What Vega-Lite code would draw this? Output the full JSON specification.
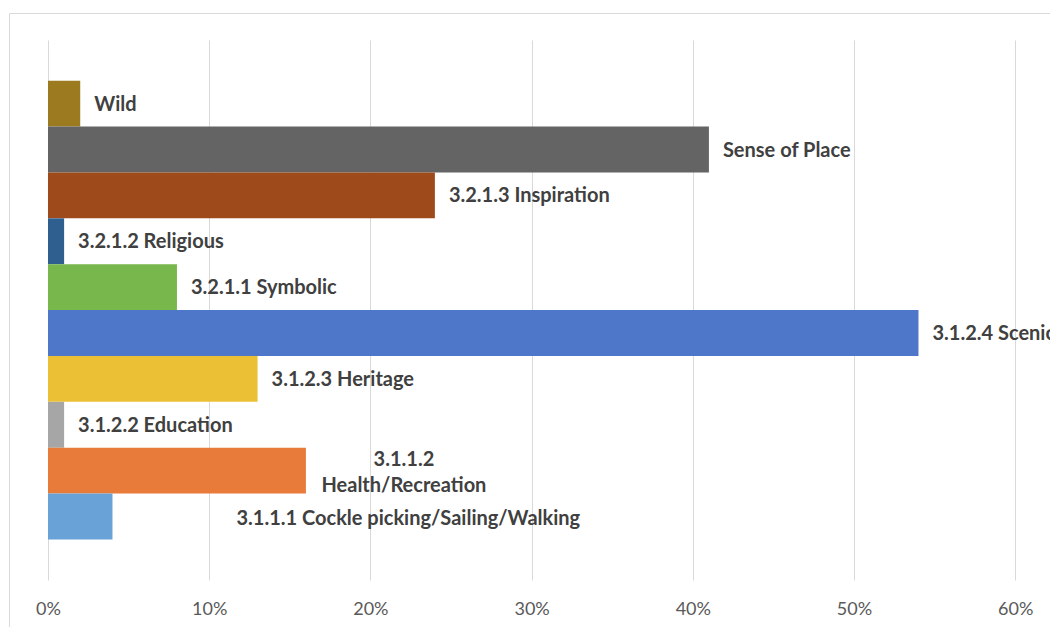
{
  "$schema": "https://vega.github.io/schema/vega-lite/v6.json",
  "width": 1041,
  "height": 614,
  "autosize": {"type": "none"},
  "padding": {"left": 9, "top": 13, "right": 0, "bottom": 0},
  "background": "white",
  "config": {"view": {"stroke": null}, "font": "Lato"},
  "data": {
    "values": [
      {"name": "Wild", "label": "Wild", "value": 0.02},
      {"name": "Sense of Place", "label": "Sense of Place", "value": 0.41},
      {"name": "3.2.1.3 Inspiration", "label": "3.2.1.3 Inspiration", "value": 0.24},
      {"name": "3.2.1.2 Religious", "label": "3.2.1.2 Religious", "value": 0.01},
      {"name": "3.2.1.1 Symbolic", "label": "3.2.1.1 Symbolic", "value": 0.08},
      {"name": "3.1.2.4 Scenic", "label": "3.1.2.4 Scenic", "value": 0.54},
      {"name": "3.1.2.3 Heritage", "label": "3.1.2.3 Heritage", "value": 0.13},
      {"name": "3.1.2.2 Education", "label": "3.1.2.2 Education", "value": 0.01},
      {"name": "3.1.1.2 Health/Recreation", "label": "3.1.1.2\nHealth/Recreation", "value": 0.16},
      {"name": "3.1.1.1 Cockle picking/Sailing/Walking", "label": "3.1.1.1 Cockle picking/Sailing/Walking", "value": 0.04}
    ]
  },
  "layer": [
    {
      "mark": {"type": "bar"},
      "encoding": {
        "y": {
          "field": "name", "type": "nominal", "sort": null,
          "scale": {"range": [67.7, 526.5], "paddingInner": 0, "paddingOuter": 0},
          "axis": null
        },
        "x": {
          "field": "value", "type": "quantitative",
          "scale": {"domain": [-0.02419, 0.62159], "nice": false, "zero": false},
          "axis": {
            "orient": "bottom", "values": [0, 0.1, 0.2, 0.3, 0.4, 0.5, 0.6], "format": ".0%",
            "grid": false, "domain": false, "ticks": true, "tickSize": -540, "tickColor": "#d9d9d9", "tickWidth": 1,
            "offset": -47, "labelPadding": 560, "title": null,
            "labelColor": "#595959", "labelFontSize": 18, "labelFont": "Lato"
          }
        },
        "x2": {"datum": 0},
        "color": {
          "field": "name", "type": "nominal", "legend": null,
          "scale": {
            "domain": ["Wild", "Sense of Place", "3.2.1.3 Inspiration", "3.2.1.2 Religious", "3.2.1.1 Symbolic", "3.1.2.4 Scenic", "3.1.2.3 Heritage", "3.1.2.2 Education", "3.1.1.2 Health/Recreation", "3.1.1.1 Cockle picking/Sailing/Walking"],
            "range": ["#9b7a20", "#646464", "#9e4a1a", "#2f5f8f", "#77b74b", "#4f77c9", "#ecc035", "#a6a6a6", "#e87b3a", "#68a2d6"]
          }
        }
      }
    },
    {
      "transform": [{"filter": "datum.name !== '3.1.1.2 Health/Recreation' && datum.name !== '3.1.1.1 Cockle picking/Sailing/Walking'"}],
      "mark": {"type": "text", "align": "left", "baseline": "middle", "dx": 14, "dy": 1, "fontWeight": "bold", "fontSize": 20, "color": "#404040"},
      "encoding": {
        "y": {"field": "name", "type": "nominal", "sort": null, "axis": null},
        "x": {"field": "value", "type": "quantitative", "axis": {"orient": "top", "domain": true, "domainColor": "#d9d9d9", "labels": false, "ticks": true, "values": [-0.02419], "tickSize": -614, "tickColor": "#d9d9d9", "grid": false, "title": null}},
        "text": {"field": "label"}
      }
    },
    {
      "transform": [{"filter": "datum.name === '3.1.1.2 Health/Recreation'"}],
      "mark": {"type": "text", "align": "center", "baseline": "middle", "dx": 98, "dy": -11, "lineBreak": "\n", "lineHeight": 26, "fontWeight": "bold", "fontSize": 20, "color": "#404040"},
      "encoding": {
        "y": {"field": "name", "type": "nominal", "sort": null, "axis": null},
        "x": {"field": "value", "type": "quantitative", "axis": null},
        "text": {"field": "label"}
      }
    },
    {
      "transform": [{"filter": "datum.name === '3.1.1.1 Cockle picking/Sailing/Walking'"}],
      "mark": {"type": "text", "align": "left", "baseline": "middle", "dx": 124, "dy": 2, "fontWeight": "bold", "fontSize": 20, "color": "#404040"},
      "encoding": {
        "y": {"field": "name", "type": "nominal", "sort": null, "axis": null},
        "x": {"field": "value", "type": "quantitative", "axis": null},
        "text": {"field": "label"}
      }
    }
  ]
}
